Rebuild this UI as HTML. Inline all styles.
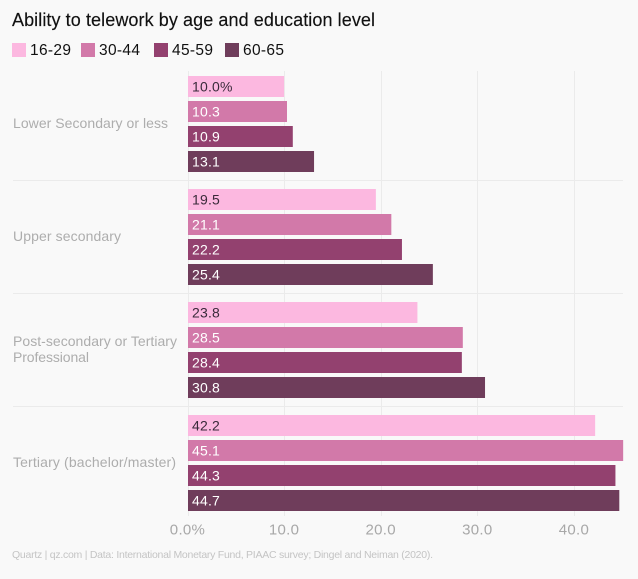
<!DOCTYPE html>
<html>
<head>
<meta charset="utf-8">
<style>
html,body{margin:0;padding:0;background:#f9f9f9;}
body{width:638px;height:579px;overflow:hidden;}
svg{display:block;font-family:"Liberation Sans",sans-serif;}
</style>
</head>
<body>
<svg id="chart" width="638" height="579" viewBox="0 0 638 579" xmlns="http://www.w3.org/2000/svg">
<rect x="0" y="0" width="638" height="579" fill="#f9f9f9"/>
<text x="12" y="26" font-size="18" fill="#111" stroke="#111" stroke-width="0.15" textLength="363" lengthAdjust="spacing">Ability to telework by age and education level</text>
<g id="legend"></g>
<g id="grid"></g>
<g id="bars"></g>
<g id="cats"></g>
<g id="ticks"></g>
<text x="12" y="558" font-size="10.5" fill="#c4c4c4" textLength="421" lengthAdjust="spacing">Quartz | qz.com | Data: International Monetary Fund, PIAAC survey; Dingel and Neiman (2020).</text>
</svg>
<script>
var categories = [["Lower Secondary or less"], ["Upper secondary"], ["Post-secondary or Tertiary", "Professional"], ["Tertiary (bachelor/master)"]];
var seriesNames = ["16-29", "30-44", "45-59", "60-65"];
var values1629 = [10.0, 19.5, 23.8, 42.2];
var values3044 = [10.3, 21.1, 28.5, 45.1];
var values4559 = [10.9, 22.2, 28.4, 44.3];
var values6065 = [13.1, 25.4, 30.8, 44.7];
var tickValues = [0, 10, 20, 30, 40];
var tickLabels = ["0.0%", "10.0", "20.0", "30.0", "40.0"];

var seriesValues = [values1629, values3044, values4559, values6065];
var colors = ["#fcb8e0", "#d279a9", "#93416f", "#6f3d5b"];
var labelColors = ["#3a2a3a", "#ffffff", "#ffffff", "#ffffff"];
var legendSwatchX = [12, 81, 154, 225];
var NS = "http://www.w3.org/2000/svg";

function xScale(v) { return 187.5 + v * 9.66; }
function groupTop(g) { return 76 + g * 113; }
function barTop(g, s) { return groupTop(g) + s * 25; }
function make(tag, attrs, text) {
  var el = document.createElementNS(NS, tag);
  for (var k in attrs) { el.setAttribute(k, attrs[k]); }
  if (text !== undefined) { el.textContent = text; }
  return el;
}

var legend = document.getElementById("legend");
seriesNames.forEach(function (name, i) {
  var sw = make("rect", { x: legendSwatchX[i], y: 43, width: 14, height: 14, fill: colors[i] });
  
  
  legend.appendChild(sw);
  var t = make("text", { x: legendSwatchX[i] + 18, y: 55, "font-size": 15.5, fill: "#111", textLength: 41, lengthAdjust: "spacing" }, name);
  
  
  legend.appendChild(t);
});

var grid = document.getElementById("grid");
tickValues.forEach(function (v) {
  var l = make("line", { x1: Math.round(xScale(v)) + 0.5, x2: Math.round(xScale(v)) + 0.5, y1: 71, y2: 516, stroke: "#ebebeb", "stroke-width": 1 });
  
  
  grid.appendChild(l);
});
categories.forEach(function (c, g) {
  if (g === 0) { return; }
  var y = groupTop(g) - 8.5;
  var l = make("line", { x1: 13, x2: 623, y1: y, y2: y, stroke: "#ebebeb", "stroke-width": 1 });
  
  
  grid.appendChild(l);
});

var bars = document.getElementById("bars");
seriesValues.forEach(function (vals, s) {
  vals.forEach(function (v, g) {
    var r = make("rect", { x: 188, y: barTop(g, s), width: xScale(v) - 188, height: 21, fill: colors[s] });
    
    
    bars.appendChild(r);
    var label = v.toFixed(1) + (g === 0 && s === 0 ? "%" : "");
    var t = make("text", { x: 192, y: barTop(g, s) + 15.5, "font-size": 14, fill: labelColors[s], "letter-spacing": 0.2 }, label);
    
    
    bars.appendChild(t);
  });
});

var cats = document.getElementById("cats");
var catWidths = [[155], [108], [164, 76], [163]];
categories.forEach(function (lines, g) {
  var centre = groupTop(g) + 47;
  lines.forEach(function (line, i) {
    var y = centre + 5 + (i - (lines.length - 1) / 2) * 16;
    var t = make("text", { x: 13, y: y, "font-size": 14, fill: "#adadad", textLength: catWidths[g][i], lengthAdjust: "spacing" }, line);
    
    
    cats.appendChild(t);
  });
});

var ticks = document.getElementById("ticks");
tickValues.forEach(function (v, i) {
  var t = make("text", { x: xScale(v), y: 534.5, "font-size": 15, fill: "#a8a8a8", "text-anchor": "middle", "letter-spacing": 0.3 }, tickLabels[i]);
  
  
  ticks.appendChild(t);
});
</script>
</body>
</html>
